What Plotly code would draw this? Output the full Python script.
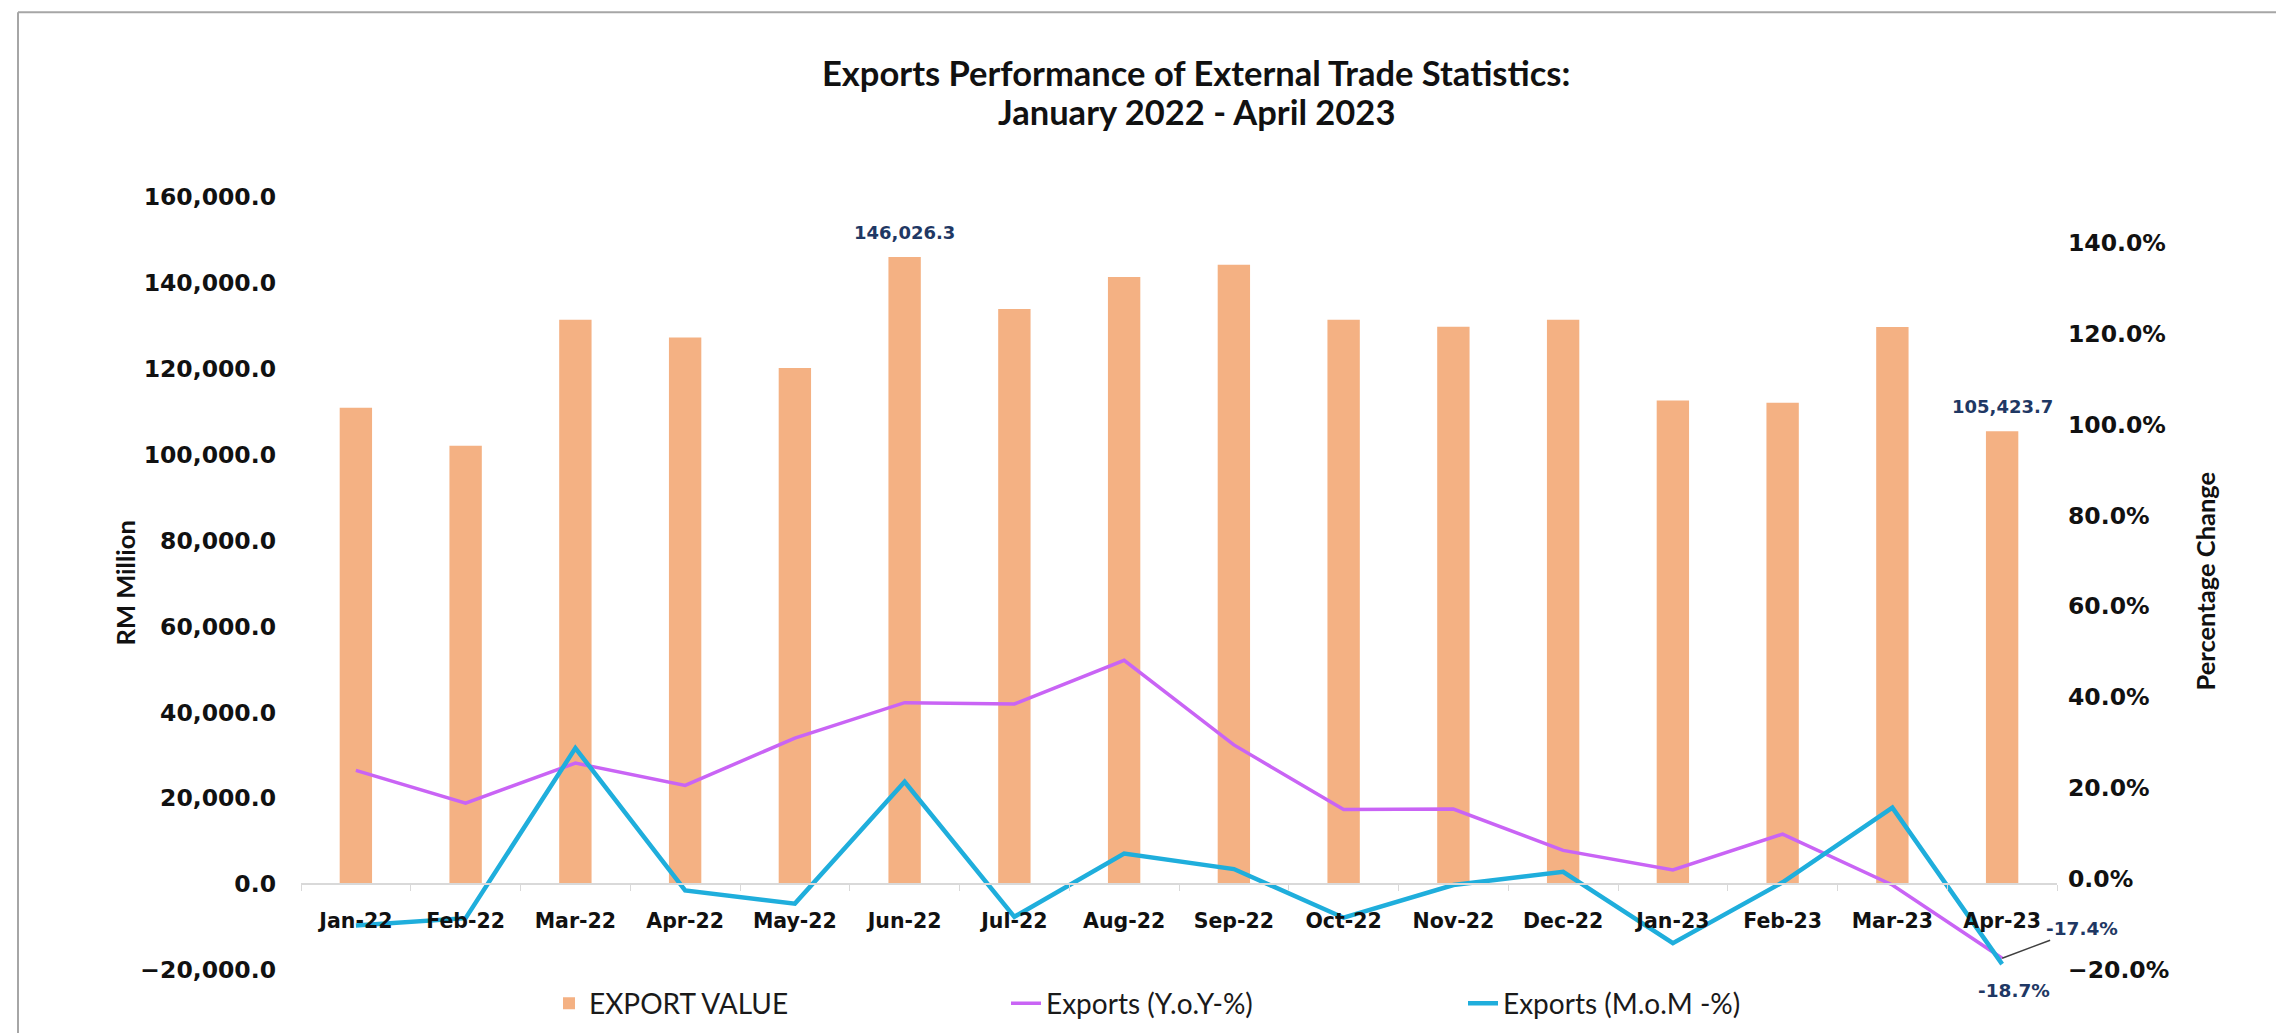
import plotly.graph_objects as go

# ---------------- data ----------------
months = ["Jan-22", "Feb-22", "Mar-22", "Apr-22", "May-22", "Jun-22", "Jul-22", "Aug-22",
          "Sep-22", "Oct-22", "Nov-22", "Dec-22", "Jan-23", "Feb-23", "Mar-23", "Apr-23"]
export_value = [110900, 102100, 131400, 127300, 120200, 146026.3, 133900, 141400,
                144200, 131400, 129800, 131400, 112600, 112100, 129700, 105423.7]
yoy_pct = [23.9, 16.7, 25.5, 20.6, 31.0, 38.8, 38.5, 48.1,
           29.5, 15.3, 15.4, 6.3, 2.0, 9.9, -1.3, -17.4]
mom_pct = [-10.2, -8.6, 28.8, -2.5, -5.4, 21.4, -8.3, 5.6,
           2.2, -8.5, -1.3, 1.6, -14.1, -0.7, 15.7, -18.7]

series_names = ["EXPORT VALUE", "Exports (Y.o.Y-%)", "Exports (M.o.M -%)"]
title_lines = ["Exports Performance of External Trade Statistics:", "January 2022 - April 2023"]
left_title = "RM Million"
right_title = "Percentage Change"
bar_labels_idx = [5, 15]

# ---------------- layout geometry ----------------
W, H = 2284, 1033
ML, MR, MT, MB = 293, 235, 189, 62
PW, PH = W - ML - MR, H - MT - MB


def px(xp):
    return (xp - ML) / PW


def py(yp):
    return (H - MB - yp) / PH


Y_RANGE = [-20000, 160000]
Y2_RANGE = [-20, 150]

BAR_COLOR = "#F4B183"
YOY_COLOR = "#C964F5"
MOM_COLOR = "#1FAEDC"
LABEL_COLOR = "#1F3864"
CAT_FONT = dict(family="DejaVu Sans", size=20.5, color="#111111", weight="bold")
VAL_FONT = dict(family="DejaVu Sans", size=23.5, color="#111111", weight="bold")
TXT_FONT = "Lato"

fig = go.Figure()
fig.add_trace(go.Bar(x=months, y=export_value, name=series_names[0],
                     marker=dict(color=BAR_COLOR, line=dict(width=0)), yaxis="y"))
fig.add_trace(go.Scatter(x=months, y=yoy_pct, name=series_names[1], mode="lines",
                         line=dict(color=YOY_COLOR, width=3.5), yaxis="y2"))
fig.add_trace(go.Scatter(x=months, y=mom_pct, name=series_names[2], mode="lines",
                         line=dict(color=MOM_COLOR, width=4.5), yaxis="y2"))

annotations = []
for line_text, yc in zip(title_lines, [63, 102]):
    annotations.append(dict(xref="paper", yref="paper", x=px(1188), y=py(yc),
                            text=line_text, showarrow=False,
                            xanchor="center", yanchor="middle",
                            font=dict(family=TXT_FONT, size=34.5, color="#111111", weight="bold")))
annotations.append(dict(xref="paper", yref="paper", x=px(116), y=py(580),
                        text=left_title, textangle=-90, showarrow=False,
                        xanchor="center", yanchor="middle",
                        font=dict(family=TXT_FONT, size=25.5, color="#111111", weight="bold")))
annotations.append(dict(xref="paper", yref="paper", x=px(2197), y=py(578),
                        text=right_title, textangle=-90, showarrow=False,
                        xanchor="center", yanchor="middle",
                        font=dict(family=TXT_FONT, size=25.5, color="#111111", weight="bold")))
for i in bar_labels_idx:
    annotations.append(dict(x=months[i], y=export_value[i], xref="x", yref="y",
                            text=f"{export_value[i]:,.1f}", showarrow=False,
                            yanchor="bottom", yshift=12,
                            font=dict(family="DejaVu Sans", size=18, color=LABEL_COLOR, weight="bold")))
annotations.append(dict(x=months[-1], y=yoy_pct[-1], xref="x", yref="y2",
                        text=f"{yoy_pct[-1]:.1f}%", showarrow=True, arrowhead=0,
                        arrowwidth=1.5, arrowcolor="#404040", ax=80, ay=-30, standoff=0,
                        font=dict(family="DejaVu Sans", size=18.5, color=LABEL_COLOR, weight="bold")))
annotations.append(dict(x=months[-1], y=mom_pct[-1], xref="x", yref="y2",
                        text=f"{mom_pct[-1]:.1f}%", showarrow=False,
                        xshift=12, yshift=-26, yanchor="middle",
                        font=dict(family="DejaVu Sans", size=18.5, color=LABEL_COLOR, weight="bold")))

shapes = [
    dict(type="line", xref="paper", yref="paper", x0=px(10), x1=px(W + 5), y0=py(2), y1=py(2),
         line=dict(color="#A6A6A6", width=2)),
    dict(type="line", xref="paper", yref="paper", x0=px(10), x1=px(10), y0=py(2), y1=py(H + 5),
         line=dict(color="#A6A6A6", width=2)),
]

fig.update_layout(
    width=W, height=H,
    margin=dict(l=ML, r=MR, t=MT, b=MB),
    paper_bgcolor="white", plot_bgcolor="white",
    bargap=0.705,
    showlegend=True,
    legend=dict(orientation="h", x=px(541), xanchor="left", y=py(1005), yanchor="middle",
                font=dict(family=TXT_FONT, size=28, color="#1a1a1a"),
                entrywidth=412, entrywidthmode="pixels", bgcolor="rgba(0,0,0,0)",
                traceorder="normal"),
    xaxis=dict(type="category", range=[-0.5, len(months) - 0.5], anchor="free",
               position=(0 - Y_RANGE[0]) / (Y_RANGE[1] - Y_RANGE[0]),
               showline=True, linecolor="#D9D9D9", linewidth=1.5,
               ticks="outside", tickson="boundaries", ticklen=6, tickcolor="#D9D9D9",
               tickfont=CAT_FONT, ticklabelstandoff=19, showgrid=False, zeroline=False),
    yaxis=dict(range=Y_RANGE, dtick=20000, tick0=0, tickformat=",.1f",
               showgrid=False, zeroline=False, showline=False, ticks="",
               ticklabelstandoff=24, tickfont=VAL_FONT),
    yaxis2=dict(range=Y2_RANGE, dtick=20, tick0=0, tickformat=".1f", ticksuffix="%",
                overlaying="y", side="right", showgrid=False, zeroline=False,
                showline=False, ticks="", ticklabelstandoff=10, tickfont=VAL_FONT),
    annotations=annotations,
    shapes=shapes,
)

fig.write_html("out.html")
